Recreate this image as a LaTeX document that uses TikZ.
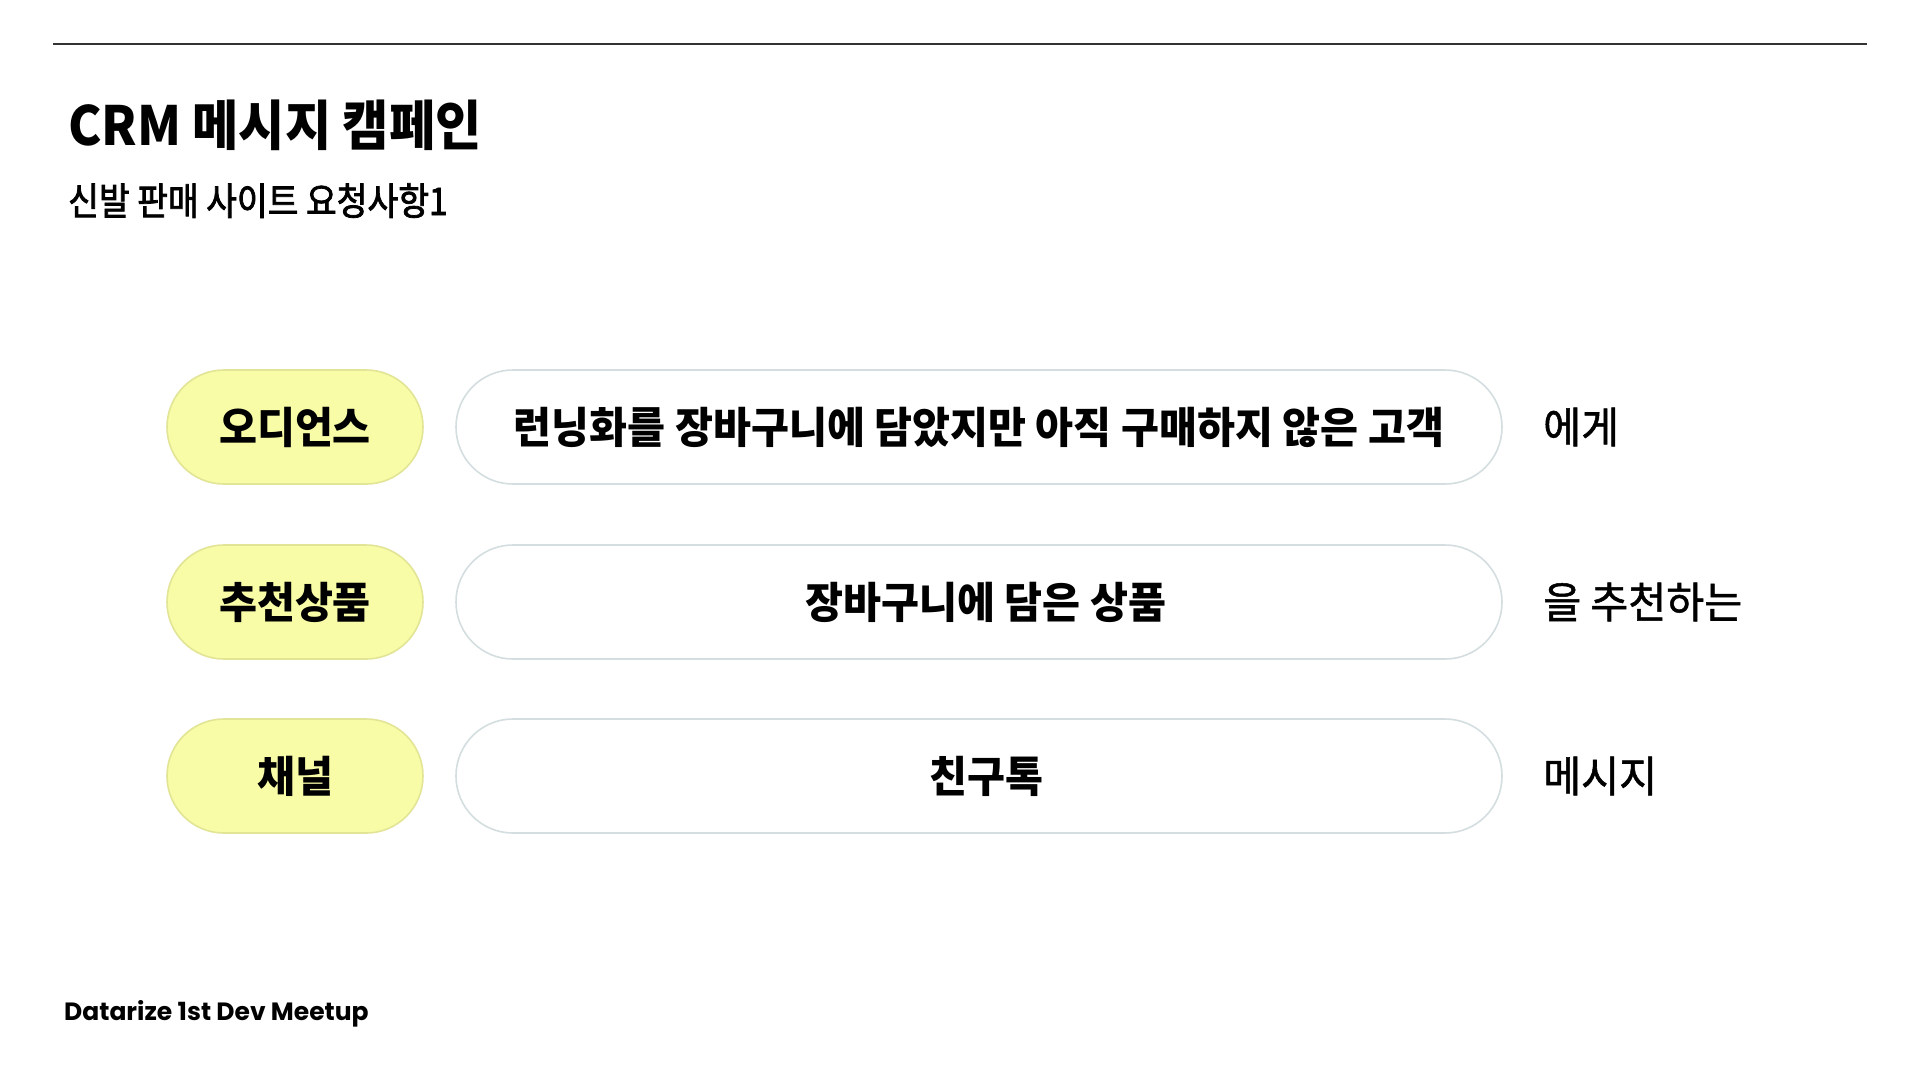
\documentclass[tikz,border=0pt]{standalone}
\usepackage{fontspec}
\newfontfamily\kr[FakeStretch=0.93]{Noto Sans CJK KR}
\newfontfamily\krs[FakeStretch=0.88,FakeBold=2]{Noto Sans CJK KR}
\newfontfamily\krw[FakeStretch=0.96]{Noto Sans CJK KR}
\newfontfamily\krm[FakeStretch=0.96,FakeBold=1.2]{Noto Sans CJK KR}
\newfontfamily\footfont{Poppins}
\definecolor{pillyellow}{RGB}{248,252,166}
\definecolor{pillyellowline}{RGB}{226,228,150}
\definecolor{pillgrey}{RGB}{212,222,224}
\definecolor{rulegrey}{RGB}{51,51,51}
\tikzset{
  ybox/.style={draw=pillyellowline, line width=1.6pt, fill=pillyellow, rounded corners=56.9pt,
    minimum width=256pt, minimum height=114pt, inner sep=0pt,
    font=\krw\bfseries\fontsize{43}{50}\selectfont},
  wbox/.style={draw=pillgrey, line width=1.6pt, fill=white, rounded corners=56.9pt,
    minimum width=1046pt, minimum height=114pt, inner sep=0pt,
    font=\krw\bfseries\fontsize{43}{50}\selectfont},
  rtext/.style={anchor=west, inner sep=0pt, font=\krm\fontsize{43}{50}\selectfont}
}
\begin{document}
\begin{tikzpicture}[x=1pt,y=-1pt]
\useasboundingbox (0,0) rectangle (1920,1080);
\fill[white] (0,0) rectangle (1920,1080);
\coordinate (l1) at (53,44);
\coordinate (l2) at (1867,44);
\draw[rulegrey, line width=1.8pt] (l1) -- (l2);
\node[anchor=base west, inner sep=0pt, font=\kr\bfseries\fontsize{54}{60}\selectfont] (title) at (68,145) {CRM 메시지 캠페인};
\node[anchor=base west, inner sep=0pt, font=\krs\fontsize{38}{44}\selectfont] (sub) at (68,215) {신발 판매 사이트 요청사항1};

\node[ybox] (y1) at (295,427) {오디언스};
\node[ybox] (y2) at (295,602) {추천상품};
\node[ybox] (y3) at (295,776) {채널};

\node[wbox] (w1) at (979,427) {런닝화를 장바구니에 담았지만 아직 구매하지 않은 고객};
\node[wbox] (w2) at (979,602) {\hspace*{14pt}장바구니에 담은 상품};
\node[wbox] (w3) at (979,776) {\hspace*{14pt}친구톡};

\node[rtext] (r1) at (1543,427) {에게};
\node[rtext] (r2) at (1543,602) {을 추천하는};
\node[rtext] (r3) at (1543,776) {메시지};

\node[anchor=base west, inner sep=0pt, font=\footfont\bfseries\fontsize{25}{30}\selectfont] (foot) at (64,1020) {Datarize 1st Dev Meetup};
\end{tikzpicture}
\end{document}
